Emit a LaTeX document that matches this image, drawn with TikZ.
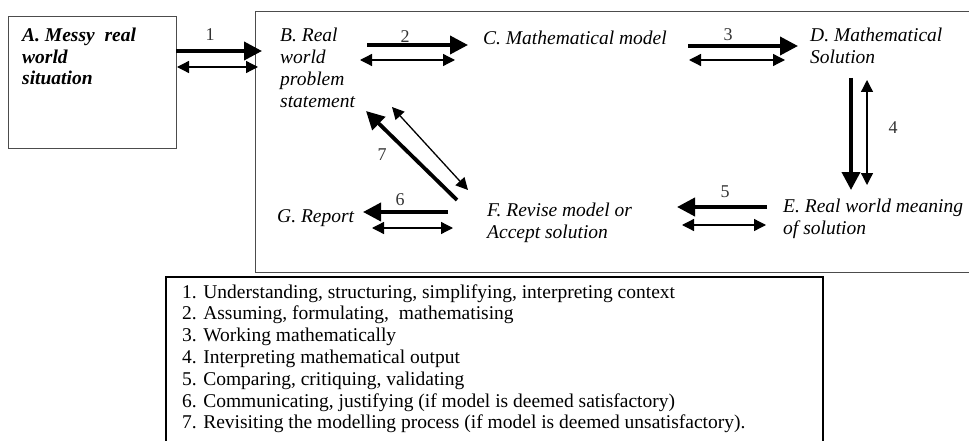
\documentclass[tikz,border=0pt]{standalone}
\usepackage{fontspec}
\setmainfont{Liberation Serif}
\usetikzlibrary{arrows.meta}
\begin{document}
\begin{tikzpicture}[x=1pt,y=-1pt,
  lbl/.style={anchor=base west, inner sep=0pt, align=left, font=\fontsize{19.5}{22}\selectfont\itshape},
  num/.style={font=\fontsize{18}{18}\selectfont, text=black!80, inner sep=0pt},
  thickarr/.style={line width=3.8pt, -{Triangle[length=18pt,width=18pt]}},
  thinarr/.style={line width=1.3pt, {Triangle[length=12pt,width=12pt]}-{Triangle[length=12pt,width=12pt]}},
  frame/.style={draw=black!70, line width=1pt},
  legframe/.style={draw=black, line width=1.4pt}
]
\useasboundingbox (0,0) rectangle (969,441);
% frames
\node[frame, anchor=north west, minimum width=168pt, minimum height=132pt, inner sep=0pt] (boxA) at (8,16) {};
\draw[frame] (980,12) -- (255,12) -- (255,272) -- (980,272);
\draw[legframe] (166,460) -- (166,277) -- (823,277) -- (823,460);
% labels (anchored at the baseline of their last line)
\node[lbl, font=\fontsize{19.5}{21.5}\selectfont\bfseries\itshape] (A) at (22,85) {A. Messy\ \ real\\world\\situation};
\node[lbl] (B) at (280,108) {B. Real\\world\\problem\\statement};
\node[lbl] (C) at (483,45) {C. Mathematical model};
\node[lbl] (D) at (810,64) {D. Mathematical\\Solution};
\node[lbl] (E) at (783,234) {E. Real world meaning\\of solution};
\node[lbl] (F) at (487,238) {F. Revise model or\\Accept solution};
\node[lbl] (G) at (277,222) {G. Report};
% arrow end points
\coordinate (a1s) at (176,51);  \coordinate (a1e) at (262,51);
\coordinate (b1s) at (177,67);  \coordinate (b1e) at (258,67);
\coordinate (a2s) at (367,45);  \coordinate (a2e) at (468,45);
\coordinate (b2s) at (360,60);  \coordinate (b2e) at (455,60);
\coordinate (a3s) at (688,46);  \coordinate (a3e) at (798,46);
\coordinate (b3s) at (689,60);  \coordinate (b3e) at (785,60);
\coordinate (a4s) at (851,78);  \coordinate (a4e) at (851,190);
\coordinate (b4s) at (867,80);  \coordinate (b4e) at (867,185);
\coordinate (a5s) at (767,207); \coordinate (a5e) at (677,207);
\coordinate (b5s) at (682,225); \coordinate (b5e) at (766,225);
\coordinate (a6s) at (448,212); \coordinate (a6e) at (363,212);
\coordinate (b6s) at (372,228); \coordinate (b6e) at (453,228);
\coordinate (a7s) at (457,200); \coordinate (a7e) at (366,111);
\coordinate (b7s) at (392,107); \coordinate (b7e) at (468,190);
% arrows
\draw[thickarr] (a1s) -- (a1e);  \draw[thinarr] (b1s) -- (b1e);
\draw[thickarr] (a2s) -- (a2e);  \draw[thinarr] (b2s) -- (b2e);
\draw[thickarr] (a3s) -- (a3e);  \draw[thinarr] (b3s) -- (b3e);
\draw[thickarr] (a4s) -- (a4e);  \draw[thinarr] (b4s) -- (b4e);
\draw[thickarr] (a5s) -- (a5e);  \draw[thinarr] (b5s) -- (b5e);
\draw[thickarr] (a6s) -- (a6e);  \draw[thinarr] (b6s) -- (b6e);
\draw[thickarr] (a7s) -- (a7e);  \draw[thinarr] (b7s) -- (b7e);
% numbers
\node[num] (n1) at (210,35) {1};
\node[num] (n2) at (405,37) {2};
\node[num] (n3) at (728,35) {3};
\node[num] (n4) at (893,128) {4};
\node[num] (n5) at (725,192) {5};
\node[num] (n6) at (400,200) {6};
\node[num] (n7) at (382,155) {7};
% legend (anchored at the baseline of its last line)
\node[anchor=base west, inner sep=0pt, align=left, font=\fontsize{19.5}{21.8}\selectfont] (leg) at (182,428.8) {%
1. Understanding, structuring, simplifying, interpreting context\\
2. Assuming, formulating,\ \ mathematising\\
3. Working mathematically\\
4. Interpreting mathematical output\\
5. Comparing, critiquing, validating\\
6. Communicating, justifying (if model is deemed satisfactory)\\
7. Revisiting the modelling process (if model is deemed unsatisfactory).};
\end{tikzpicture}
\end{document}
